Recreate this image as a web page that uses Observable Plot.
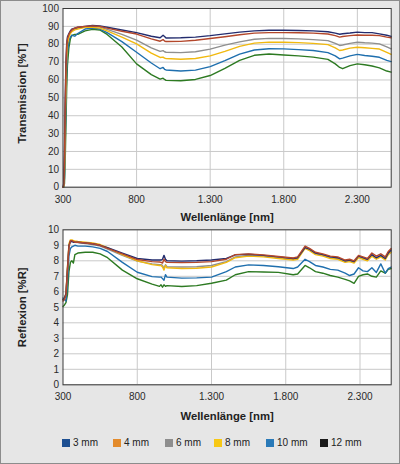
<!DOCTYPE html>
<html><head><meta charset="utf-8">
<script src="https://cdn.jsdelivr.net/npm/d3@7"></script>
<script src="https://cdn.jsdelivr.net/npm/@observablehq/plot@0.6"></script>
<style>
html,body{margin:0;padding:0;background:#fff;}
#wrap{width:400px;height:464px;box-sizing:border-box;border:1px solid #8c8c8c;background:#e6e6e6;font-family:"Liberation Sans",Arial,sans-serif;overflow:hidden;}
#wrap svg{display:block;}
#legend{display:flex;align-items:center;height:41px;padding-left:61px;font-size:10px;color:#222;}
#legend .it{display:flex;align-items:center;gap:3px;white-space:nowrap;}
#legend .it:nth-child(1){width:51px;}
#legend .it:nth-child(2){width:52px;}
#legend .it:nth-child(3){width:49px;}
#legend .it:nth-child(4){width:52px;}
#legend .it:nth-child(5){width:54px;}
#legend .sw{width:8px;height:8px;display:inline-block;}
</style></head>
<body><div id="wrap"></div>
<script>
const series = ["3 mm","4 mm","6 mm","8 mm","10 mm","12 mm"];
const lineColors = ["#232c6e","#b3472b","#8f8f8f","#f1b90f","#1f6fae","#2d7a22"];
const legendColors = ["#1d4f91","#e38b2c","#8e8e8e","#f7c815","#2a7ab8","#1a1a1a"];
const xTicks = [300,800,1300,1800,2300];

// Transmission [%T]
const wlT = [300,305,310,315,320,325,330,340,350,360,380,400,450,
  500,550,600,700,800,900, 960,980,990,1000,
  1100,1200,1300,1400,1500,1600,1700,1800, 1900,2000,2100,
  2150,2180,2200,2250, 2300,2350,2400,2450,2500,2530];
const T3  = [0,2,20,50,70,80,84,86,87.5,88.5,89,89.5,90, 90.5,90.3,89.5,88,86.5,84.5, 83.6,85,84.3,83.5, 83.6,84,84.8,85.8,86.8,87.5,87.8,87.8, 87.7,87.5,87, 86.2,85.6,85.9,86.3, 86.8,86.5,86.5,85.8,85,84.4];
const T4  = [0,1,15,45,68,79,83,85.5,87,88,89,89.5,90, 90.3,90,89,87.3,85.7,83, 81.7,82.6,81.8,81.5, 81.6,82.2,83.2,84.2,85.3,86.2,86.5,86.5, 86.4,86.2,85.7, 84.8,84,84.3,84.8, 85.2,85,85,84.8,84,83.6];
const T6  = [0,1,12,40,63,76,82,85,86.5,87.5,88.5,89,89.8, 90,89.6,88.3,85.5,82.3,78, 76,76.4,75.8,75.5, 75.3,75.8,77.3,79.5,81.3,82.8,83.3,83.2, 83,82.6,82, 80.5,79.3,79.6,80.5, 81.1,80.8,80.6,80.2,78.5,77.4];
const T8  = [0,0.5,10,35,58,73,80,84,86,87,88,88.5,89.5, 89.5,89,87.5,84,80.2,75, 72.6,72.8,72.2,72, 71.6,72,73.5,76,78.8,80.6,81.2,81.1, 80.9,80.5,79.8, 78,76.5,76.8,77.8, 78.3,78,77.7,77.3,75.5,74.3];
const T10 = [0,0.3,5,25,48,65,75,82,84,85,84.5,86,88.5, 89,88.5,86.5,81.5,75.5,69.5, 66.3,67,66,65.6, 65,65.5,67.5,70.8,74.5,76.8,77.5,77.4, 77,76.5,75.3, 73.5,71.8,72.2,73.5, 74.3,73.7,73.3,72.7,71,70.3];
const T12 = [0,0,2,15,35,55,68,78,83,85,85.5,85.5,87.5, 88.3,88,85.5,78.5,69,63, 60.5,61,60.3,59.8, 59.6,60.3,62.5,66.5,71,73.8,74.5,74, 73.5,72.8,71.5, 69,67,66.3,68, 69,68.5,67.8,66.8,65,64.4];
const yTicksT = [0,10,20,30,40,50,60,70,80,90,100];

// Reflexion [%R]
const wlR = [300,310,320,330,340,350,360,370,380,400,
  450,500,550,600,700,800,
  900,950,960,970,980,990,1000,
  1100,1200,1300,1400,1460,1550,1650,1750,
  1850,1880,1930,1960,2000,2050,2100,2150,
  2200,2230,2260,2290,2320,2350,2380,2410,
  2440,2470,2490,2510];
const R3  = [5.5,5.6,5.9,7.5,9.0,9.25,9.25,9.2,9.2,9.2, 9.15,9.1,9.0,8.85,8.5,8.15, 8.05,8.05,8.05,8.1,8.35,8.1,8.0, 7.98,8.0,8.05,8.15,8.38,8.42,8.35,8.25, 8.15,8.2,8.85,8.75,8.5,8.4,8.25,8.2, 8.0,8.05,7.95,8.3,8.2,8.1,8.4,8.2, 8.35,8.15,8.5,8.7];
const R4  = [5.4,5.5,5.8,7.4,8.9,9.3,9.3,9.25,9.2,9.2, 9.15,9.1,9.0,8.8,8.45,8.08, 7.95,7.92,7.9,7.85,8.1,7.95,7.9, 7.88,7.9,7.95,8.1,8.4,8.45,8.38,8.28, 8.18,8.25,8.95,8.8,8.55,8.45,8.3,8.25, 8.05,8.1,8.0,8.35,8.25,8.15,8.5,8.3, 8.45,8.25,8.6,8.8];
const R6  = [5.5,5.55,5.85,7.3,8.9,9.25,9.25,9.2,9.2,9.18, 9.12,9.05,8.95,8.75,8.35,7.98, 7.8,7.75,7.75,7.7,7.5,7.75,7.62, 7.6,7.62,7.7,7.95,8.25,8.35,8.3,8.2, 8.1,8.15,8.85,8.7,8.45,8.35,8.2,8.15, 7.95,8.0,7.9,8.25,8.15,8.05,8.35,8.15, 8.3,8.1,8.45,8.6];
const R8  = [5.5,5.6,5.9,7.6,9.1,9.35,9.35,9.3,9.28,9.25, 9.2,9.15,9.05,8.85,8.4,8.0, 7.75,7.7,7.7,7.6,7.4,7.7,7.55, 7.5,7.52,7.6,7.9,8.2,8.3,8.25,8.15, 8.05,8.1,8.8,8.65,8.4,8.3,8.15,8.1, 7.9,7.95,7.85,8.2,8.1,8.0,8.3,8.1, 8.25,8.05,8.4,8.55];
const R10 = [5.6,5.5,5.4,6.5,8.3,8.8,8.9,8.95,9.0,8.95, 8.95,8.9,8.8,8.6,7.9,7.26, 6.98,6.95,6.95,6.85,6.75,7.1,6.95, 6.88,6.9,6.95,7.3,7.6,7.74,7.7,7.62, 7.5,7.6,8.1,7.95,7.7,7.6,7.45,7.4, 7.2,7.05,7.15,7.55,7.35,7.3,7.55,7.25, 7.8,7.2,7.5,7.6];
const R12 = [5.05,5.15,5.3,5.8,7.3,7.9,8.0,7.85,8.4,8.5, 8.55,8.55,8.45,8.2,7.4,6.84, 6.5,6.35,6.45,6.3,6.45,6.35,6.4, 6.34,6.4,6.55,6.75,7.1,7.3,7.28,7.25, 7.1,7.15,7.7,7.55,7.3,7.2,7.05,6.95, 6.8,6.7,6.55,7.0,7.1,7.15,7.0,6.95, 7.35,7.2,7.45,7.5];
const yTicksR = [0,1,2,3,4,5,6,7,8,9,10];

const drawOrder = [5,4,2,3,0,1];
function tidy(wl, arrs){
  const out = [];
  drawOrder.forEach(i => arrs[i].forEach((v,j) => out.push({s: series[i], x: wl[j], y: v})));
  return out;
}
const dataT = tidy(wlT, [T3,T4,T6,T8,T10,T12]);
const dataR = tidy(wlR, [R3,R4,R6,R8,R10,R12]);

const de = d3.formatLocale({decimal: ",", thousands: ".", grouping: [3], currency: ["", "€"]});
const fmt = de.format(",");

function chart(data, xDomain, yDomain, yTicks, yLabel, h, mt, mb, labDy, yLabDy){
  return Plot.plot({
    width: 398, height: h,
    marginLeft: 61.5, marginRight: 8.3, marginTop: mt, marginBottom: mb,
    style: {fontFamily: "'Liberation Sans', Arial, sans-serif", fontSize: "10px", color: "#2a2a2a", background: "transparent", overflow: "visible"},
    x: {domain: xDomain},
    y: {domain: yDomain},
    color: {domain: series, range: lineColors},
    marks: [
      Plot.frame({fill: "#ffffff", stroke: "none"}),
      Plot.gridY(yTicks, {stroke: "#c9c9c9", strokeOpacity: 1}),
      Plot.gridX([800,1300,1800,2300], {stroke: "#c9c9c9", strokeOpacity: 1}),
      Plot.line(data, {x: "x", y: "y", z: "s", stroke: "s", strokeWidth: 1.4, curve: "linear"}),
      Plot.frame({stroke: "#3a3a3a", strokeWidth: 1}),
      Plot.axisX(xTicks, {tickSize: 0, tickPadding: 8.5, tickFormat: fmt, label: null}),
      Plot.axisY(yTicks, {tickSize: 0, tickPadding: 4, label: null}),
      Plot.text(["Wellenlänge [nm]"], {frameAnchor: "bottom", textAnchor: "middle", lineAnchor: "middle", dy: labDy, text: d => d, fontWeight: "bold", fontSize: 11.3, fill: "#222"}),
      Plot.text([yLabel], {frameAnchor: "left", textAnchor: "middle", lineAnchor: "middle", dx: -40.5, dy: yLabDy, rotate: -90, text: d => d, fontWeight: "bold", fontSize: 11.3, fill: "#222"})
    ]
  });
}

const wrap = document.getElementById("wrap");
wrap.append(chart(dataT, [300, 2530], [0, 100], yTicksT, "Transmission [%T]", 221, 7, 35.3, 30.5, -4.5));
wrap.append(chart(dataR, [300, 2510], [0, 10], yTicksR, "Reflexion [%R]", 200, 7.3, 37.7, 32, 0));

const leg = document.createElement("div");
leg.id = "legend";
series.forEach((s, i) => {
  const it = document.createElement("div");
  it.className = "it";
  const sw = document.createElement("span");
  sw.className = "sw";
  sw.style.background = legendColors[i];
  const tx = document.createElement("span");
  tx.textContent = s;
  it.append(sw, tx);
  leg.append(it);
});
wrap.append(leg);
</script>
</body></html>
